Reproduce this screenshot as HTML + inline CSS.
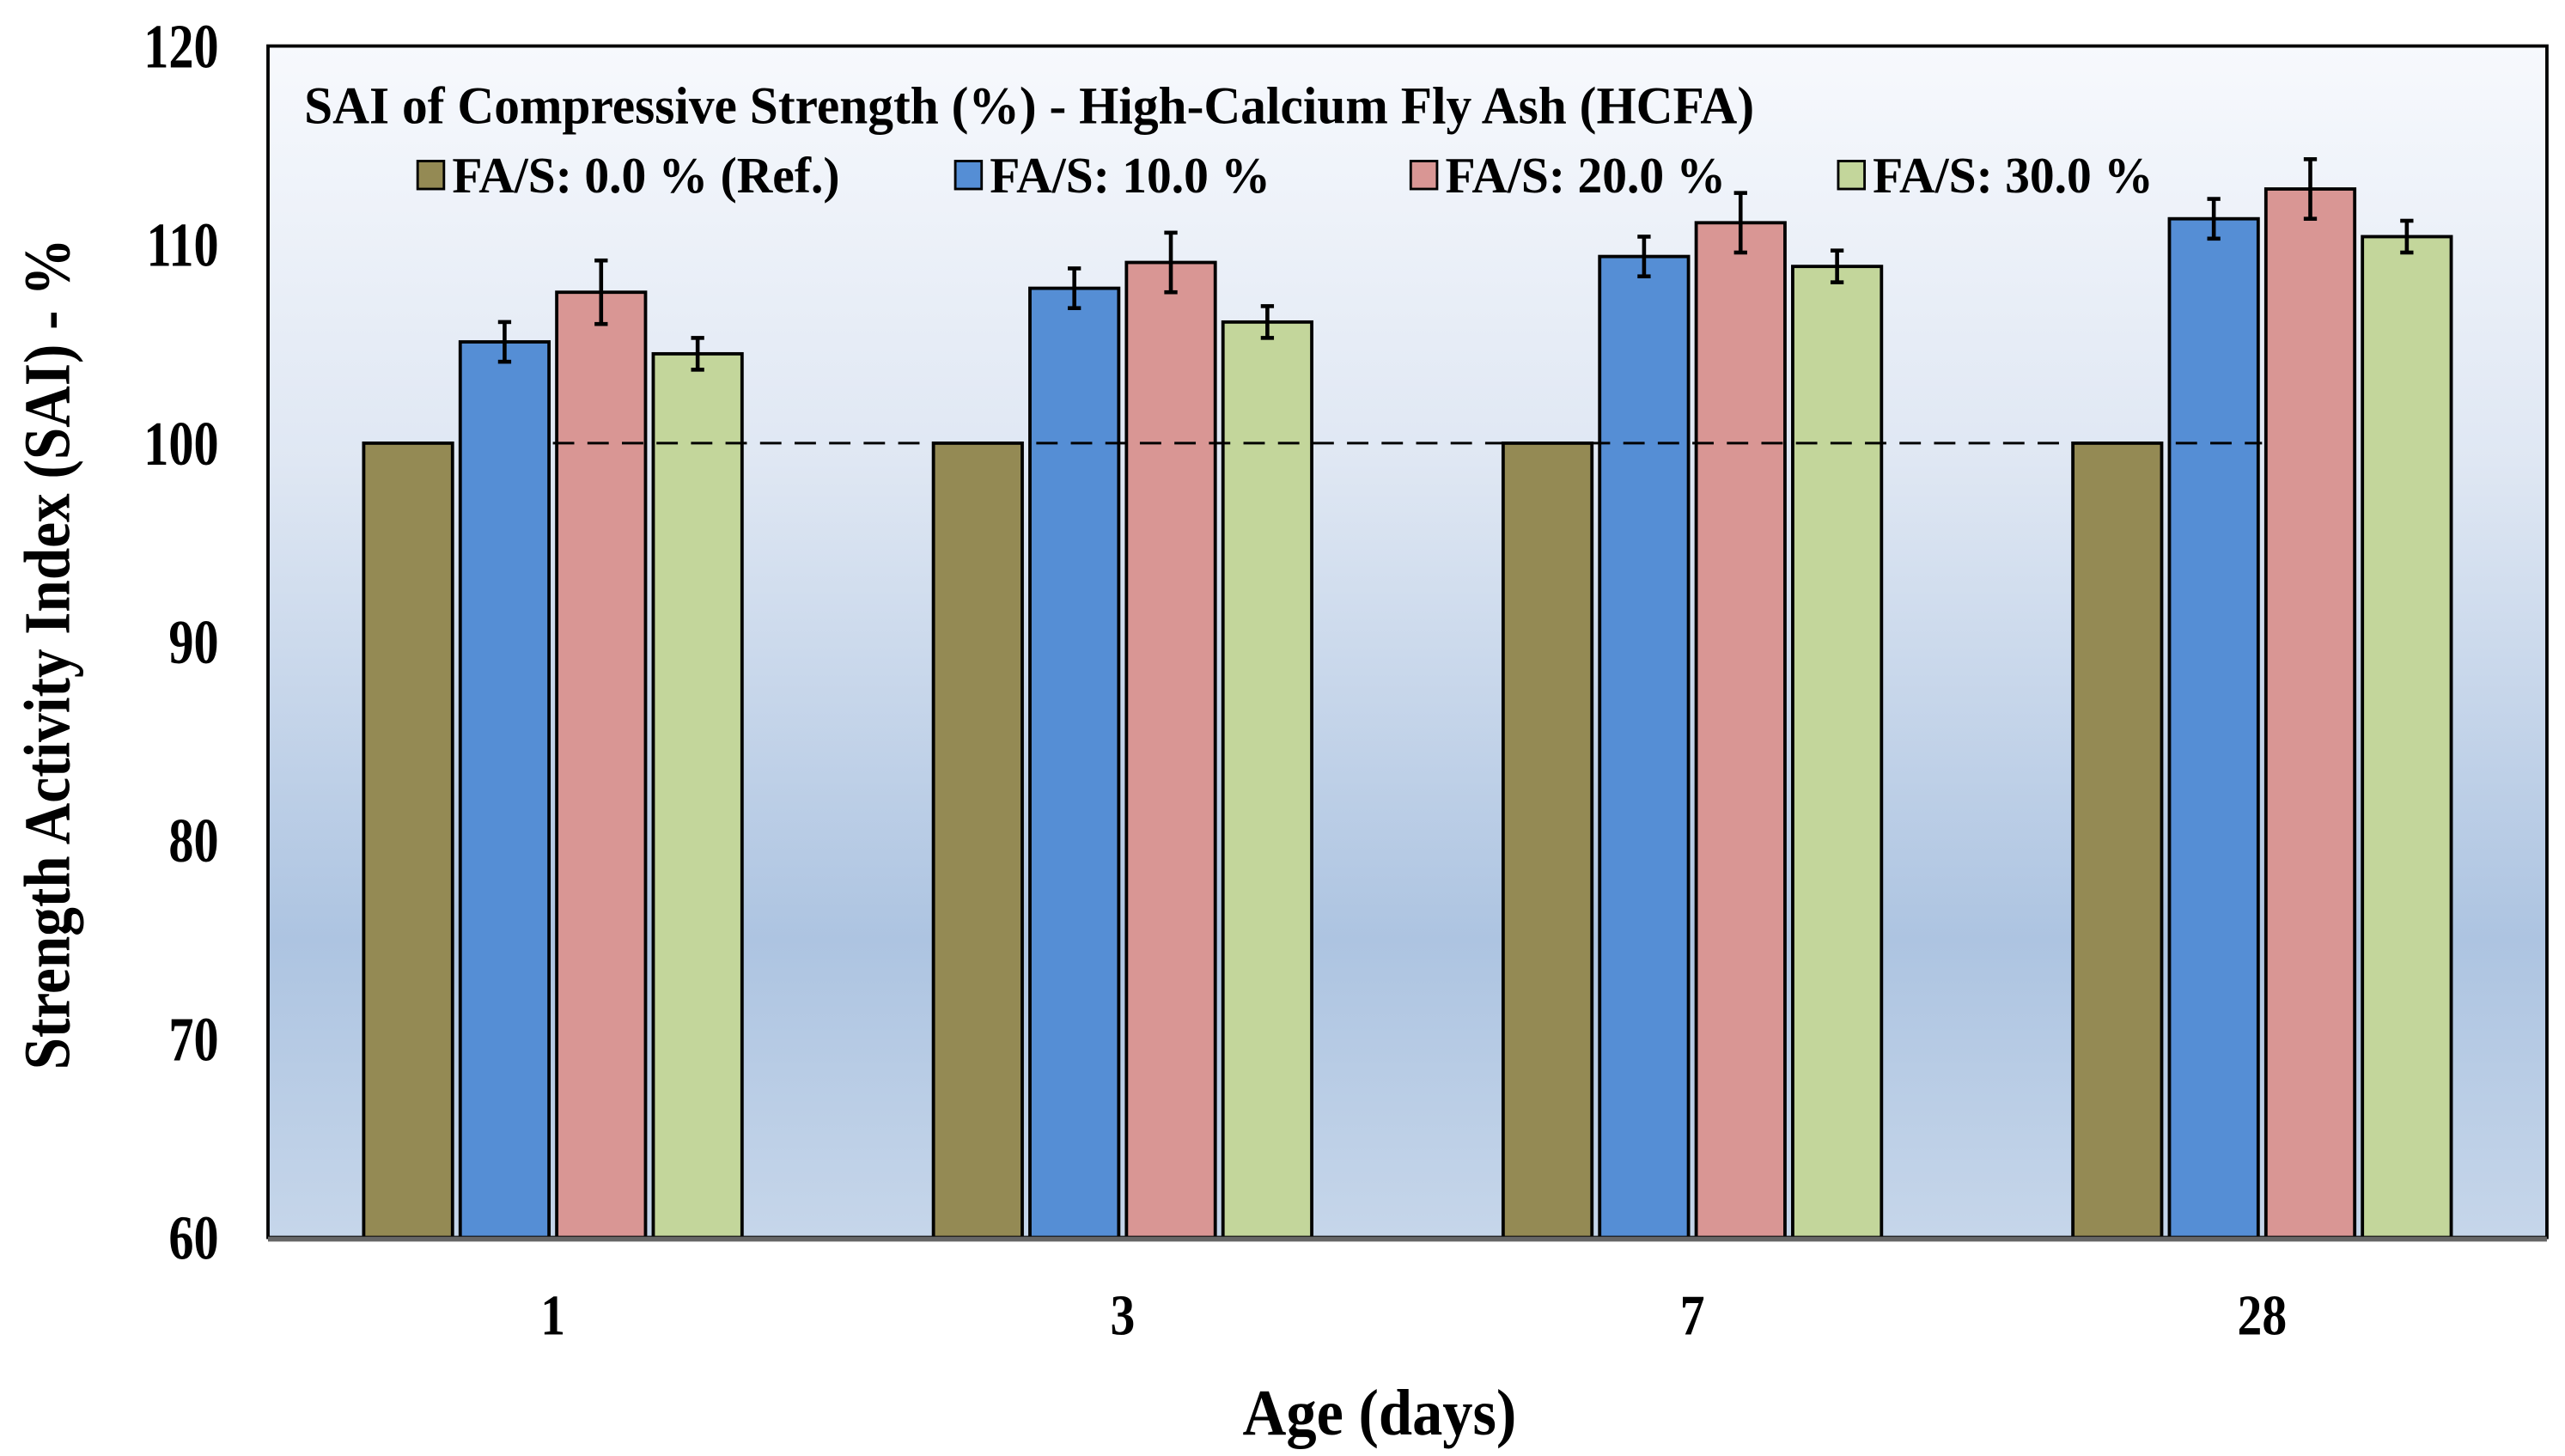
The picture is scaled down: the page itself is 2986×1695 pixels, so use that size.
<!DOCTYPE html>
<html><head><meta charset="utf-8"><style>
html,body{margin:0;padding:0;background:#fff;}
svg{display:block;font-family:"Liberation Serif",serif;font-weight:bold;}
</style></head><body>
<svg id="chart" width="2986" height="1695" viewBox="0 0 1560 886" preserveAspectRatio="none">
<defs>
<linearGradient id="bg" x1="0" y1="0" x2="0" y2="1">
<stop offset="0" stop-color="#f7f9fd"/>
<stop offset="0.35" stop-color="#dfe7f3"/>
<stop offset="0.75" stop-color="#adc4e1"/>
<stop offset="1" stop-color="#c6d6ea"/>
</linearGradient>
</defs>
<rect x="163" y="28" width="1386" height="725" fill="url(#bg)" stroke="#000" stroke-width="2"/>
<g id="marks"></g>
<line x1="163" y1="754" x2="1549" y2="754" stroke="#666" stroke-width="3"/>
<text x="185" y="75" font-size="32" transform="translate(185,0) scale(0.97,1) translate(-185,0)">SAI of Compressive Strength (%)  - High-Calcium Fly Ash (HCFA)</text>
<g id="legend" font-size="31"></g>
<g id="yticks" font-size="38" text-anchor="end"></g>
<g id="xticks" font-size="35" text-anchor="middle"></g>
<text x="0" y="0" font-size="40" text-anchor="middle" transform="translate(839,873) scale(0.92,1)">Age (days)</text>
<text transform="translate(42,398) rotate(-90) scale(0.95,1.08)" font-size="37" text-anchor="middle">Strength Activity Index (SAI) - %</text>
</svg>
<script>
const categories = ["1", "3", "7", "28"];
const seriesNames = ["FA/S: 0.0 % (Ref.)", "FA/S: 10.0 %", "FA/S: 20.0 %", "FA/S: 30.0 %"];
const ref0 = [100, 100, 100, 100];
const fa10 = [105.1, 107.8, 109.4, 111.3];
const fa20 = [107.6, 109.1, 111.1, 112.8];
const fa30 = [104.5, 106.1, 108.9, 110.4];
const err10 = [1.0, 1.0, 1.0, 1.0];
const err20 = [1.6, 1.5, 1.5, 1.5];
const err30 = [0.8, 0.8, 0.8, 0.8];
const yTicks = [60, 70, 80, 90, 100, 110, 120];
const refLine = 100;

const colors = ["#948a54", "#558ed5", "#d99694", "#c3d69b"];
const NS = "http://www.w3.org/2000/svg";
const X0 = 163, X1 = 1549, Y0 = 753, Y1 = 28, YMIN = 60, YMAX = 120;
const yS = v => Y0 - (v - YMIN) / (YMAX - YMIN) * (Y0 - Y1);
const band = (X1 - X0) / categories.length;
const xC = i => X0 + band * (i + 0.5);
const BW = 54, GAP = 4.7;
function mk(tag, attrs, parent) {
  const e = document.createElementNS(NS, tag);
  for (const k in attrs) e.setAttribute(k, attrs[k]);
  parent.appendChild(e); return e;
}
const marks = document.getElementById("marks");
const series = [ref0, fa10, fa20, fa30];
const errs = [null, err10, err20, err30];
categories.forEach((c, i) => {
  series.forEach((s, j) => {
    const x = xC(i) + (j - 2) * (BW + GAP) + GAP / 2;
    const r = mk("rect", {x: x, y: yS(s[i]), width: BW, height: Y0 - yS(s[i]), fill: colors[j], stroke: "#000", "stroke-width": 2}, marks);
    
    
  });
});
const dl = mk("line", {x1: xC(0), x2: xC(categories.length - 1), y1: yS(refLine), y2: yS(refLine), stroke: "#000", "stroke-width": 1.6, "stroke-dasharray": "13,8"}, marks);


categories.forEach((c, i) => {
  series.forEach((s, j) => {
    if (!errs[j]) return;
    const cx = xC(i) + (j - 2) * (BW + GAP) + GAP / 2 + BW / 2;
    const g = mk("g", {stroke: "#000", "stroke-width": 2.4}, marks);
    
    
    const hi = yS(s[i] + errs[j][i]), lo = yS(s[i] - errs[j][i]);
    mk("line", {x1: cx, x2: cx, y1: hi, y2: lo}, g);
    mk("line", {x1: cx - 4, x2: cx + 4, y1: hi, y2: hi}, g);
    mk("line", {x1: cx - 4, x2: cx + 4, y1: lo, y2: lo}, g);
  });
});
const yt = document.getElementById("yticks");
yTicks.forEach(v => {
  const t = mk("text", {x: 0, y: 0, transform: "translate(133," + (yS(v) + 13) + ") scale(0.8,1)"}, yt);
  t.textContent = v;
  
  
});
const xt = document.getElementById("xticks");
categories.forEach((c, i) => {
  const t = mk("text", {x: 0, y: 0, transform: "translate(" + xC(i) + ",812) scale(0.86,1)"}, xt);
  t.textContent = c;
  
  
});
const lg = document.getElementById("legend");
const lx = [254, 581, 858, 1118];
seriesNames.forEach((n, j) => {
  const g = mk("g", {}, lg);
  
  
  mk("rect", {x: lx[j], y: 98, width: 16, height: 17, fill: colors[j], stroke: "#000", "stroke-width": 1.5}, g);
  const t = mk("text", {x: 0, y: 0, transform: "translate(" + (lx[j] + 21) + ",117) scale(0.97,1)"}, g);
  t.textContent = n;
});
</script>
</body></html>
